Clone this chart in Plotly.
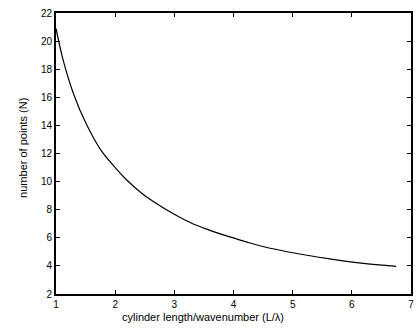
import plotly.graph_objects as go

# Values
x_ratio = [1.0, 1.13, 1.3, 1.5, 1.75, 2.0, 2.2, 2.47, 2.75, 3.03, 3.31, 3.59,
           3.87, 4.2, 4.48, 5.05, 5.6, 6.16, 6.75]
n_points = [20.9, 18.5, 16.2, 14.2, 12.3, 11.0, 10.1, 9.1, 8.3, 7.6, 7.0, 6.55,
            6.15, 5.73, 5.4, 4.9, 4.52, 4.2, 3.97]

x_ticks = [1, 2, 3, 4, 5, 6, 7]
y_ticks = [2, 4, 6, 8, 10, 12, 14, 16, 18, 20, 22]

x_title = "cylinder length/wavenumber (L/λ)"
y_title = "number of points (N)"

font_family = "Liberation Sans, Arial, Helvetica, sans-serif"

fig = go.Figure()
fig.add_trace(go.Scatter(
    x=x_ratio, y=n_points, mode="lines",
    line=dict(color="black", width=1.2, shape="spline", smoothing=1.0),
    hoverinfo="skip", showlegend=False,
))

axis_common = dict(
    showline=True, linecolor="black", linewidth=2, mirror="ticks",
    ticks="inside", ticklen=4, tickwidth=1, tickcolor="black",
    showgrid=False, zeroline=False,
    tickfont=dict(family=font_family, size=10, color="black"),
)

fig.update_xaxes(range=[1, 7], tickvals=x_ticks, **axis_common)
fig.update_yaxes(range=[2, 22], tickvals=y_ticks, **axis_common)

fig.update_layout(
    width=416, height=336,
    margin=dict(l=56, r=3, t=13, b=42),
    paper_bgcolor="white", plot_bgcolor="white",
    font=dict(family=font_family, size=10, color="black"),
    annotations=[
        dict(text=x_title, xref="paper", yref="paper", x=0.4146, y=0,
             yshift=-23, xanchor="center", yanchor="middle", showarrow=False,
             font=dict(family=font_family, size=11, color="black")),
        dict(text=y_title, xref="paper", yref="paper", x=0, y=0.52,
             xshift=-33, xanchor="center", yanchor="middle", showarrow=False,
             textangle=-90,
             font=dict(family=font_family, size=11, color="black")),
    ],
)

fig.write_html("out.html")
